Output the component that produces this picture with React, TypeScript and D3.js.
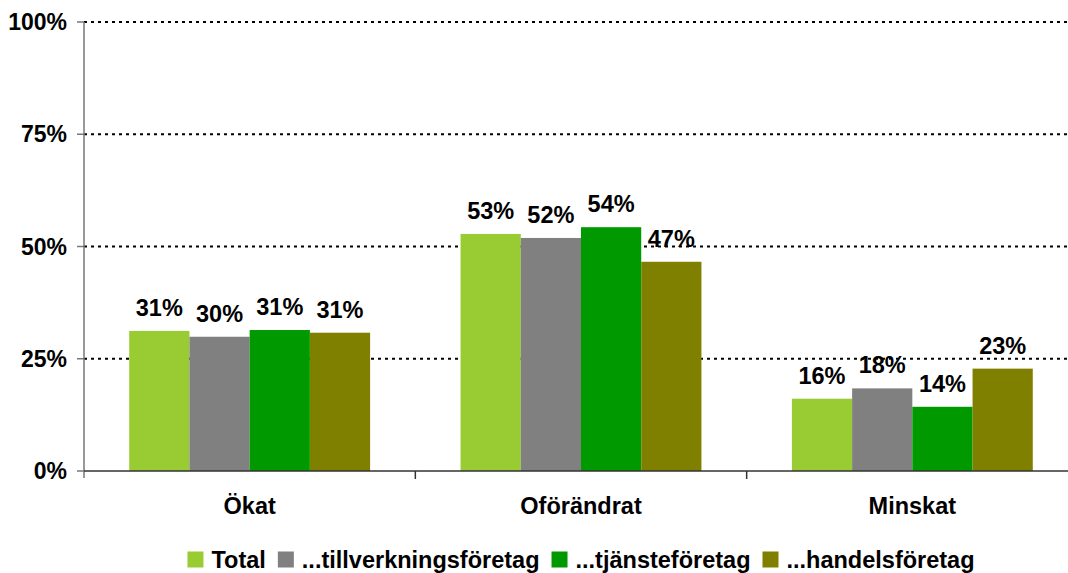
import React, { useRef, useEffect } from 'react';
import * as d3 from 'd3';

const categories = ['Ökat', 'Oförändrat', 'Minskat'];
const seriesNames = ['Total', '...tillverkningsföretag', '...tjänsteföretag', '...handelsföretag'];
const seriesColors = ['#99CC33', '#808080', '#009900', '#808000'];

// share of companies, percent
const totalValues = [31.2, 52.8, 16.1];
const tillverkningValues = [29.9, 51.9, 18.4];
const tjansteValues = [31.4, 54.3, 14.3];
const handelsValues = [30.8, 46.6, 22.8];

const yTicks = [0, 25, 50, 75, 100];

const WIDTH = 1068;
const HEIGHT = 573;
const FONT = '"Liberation Sans", Arial, Helvetica, sans-serif';

const App = () => {
  const ref = useRef<SVGSVGElement>(null);

  useEffect(() => {
    const svg = d3.select(ref.current);
    svg.selectAll('*').remove();

    const allValues = [totalValues, tillverkningValues, tjansteValues, handelsValues];
    const margin = { top: 22, left: 84, bottom: 102, right: -10 };
    const innerWidth = WIDTH - margin.left - margin.right;
    const innerHeight = HEIGHT - margin.top - margin.bottom;

    const x0 = d3.scaleBand<string>()
      .domain(categories)
      .range([0, innerWidth])
      .paddingInner(0.273)
      .paddingOuter(0.1365);

    const x1 = d3.scaleBand<number>()
      .domain(d3.range(seriesNames.length))
      .range([0, x0.bandwidth()]);

    const y = d3.scaleLinear().domain([0, 100]).range([innerHeight, 0]);

    const g = svg.append('g')
      .attr('transform', `translate(${margin.left},${margin.top})`)
      .style('font-family', FONT)
      .style('font-weight', 'bold');

    // dotted gridlines
    g.selectAll('line.grid')
      .data(yTicks.filter(t => t > 0))
      .join('line')
      .attr('class', 'grid')
      .attr('x1', 0)
      .attr('x2', innerWidth)
      .attr('y1', d => y(d))
      .attr('y2', d => y(d))
      .attr('stroke', '#000')
      .attr('stroke-width', 2)
      .attr('stroke-dasharray', '3,4');

    // bars
    const groups = g.selectAll('g.cat')
      .data(categories)
      .join('g')
      .attr('class', 'cat')
      .attr('transform', d => `translate(${x0(d)},0)`);

    groups.selectAll('rect')
      .data((_, ci) => allValues.map((vals, si) => ({ si, v: vals[ci] })))
      .join('rect')
      .attr('x', d => x1(d.si)!)
      .attr('y', d => y(d.v))
      .attr('width', x1.bandwidth())
      .attr('height', d => innerHeight - y(d.v))
      .attr('fill', d => seriesColors[d.si]);

    groups.selectAll('text')
      .data((_, ci) => allValues.map((vals, si) => ({ si, v: vals[ci] })))
      .join('text')
      .attr('x', d => x1(d.si)! + x1.bandwidth() / 2)
      .attr('y', d => y(d.v) - 15)
      .attr('text-anchor', 'middle')
      .style('font-size', '23.5px')
      .attr('fill', '#000')
      .text(d => `${Math.round(d.v)}%`);

    // y axis
    g.append('line')
      .attr('x1', 0).attr('x2', 0)
      .attr('y1', 0).attr('y2', innerHeight + 7)
      .attr('stroke', '#777').attr('stroke-width', 1.5);

    g.selectAll('line.ytick')
      .data(yTicks)
      .join('line')
      .attr('class', 'ytick')
      .attr('x1', -7).attr('x2', 0)
      .attr('y1', d => y(d)).attr('y2', d => y(d))
      .attr('stroke', '#777').attr('stroke-width', 1.5);

    g.selectAll('text.ylab')
      .data(yTicks)
      .join('text')
      .attr('class', 'ylab')
      .attr('x', -17)
      .attr('y', d => y(d) + 8)
      .attr('text-anchor', 'end')
      .style('font-size', '23px')
      .text(d => `${d}%`);

    // x axis
    g.append('line')
      .attr('x1', 0).attr('x2', innerWidth)
      .attr('y1', innerHeight).attr('y2', innerHeight)
      .attr('stroke', '#333').attr('stroke-width', 1.5);

    const step = x0.step();
    g.selectAll('line.xtick')
      .data(d3.range(1, categories.length))
      .join('line')
      .attr('class', 'xtick')
      .attr('x1', d => d * step).attr('x2', d => d * step)
      .attr('y1', innerHeight).attr('y2', innerHeight + 8)
      .attr('stroke', '#333').attr('stroke-width', 1.5);

    g.selectAll('text.xlab')
      .data(categories)
      .join('text')
      .attr('class', 'xlab')
      .attr('x', d => x0(d)! + x0.bandwidth() / 2)
      .attr('y', innerHeight + 43)
      .attr('text-anchor', 'middle')
      .style('font-size', '23.5px')
      .text(d => d);

    // legend, centred under the plot
    const legend = g.append('g');
    const items = legend.selectAll('g')
      .data(seriesNames)
      .join('g');
    items.append('rect')
      .attr('width', 16).attr('height', 16)
      .attr('y', innerHeight + 80.5)
      .attr('fill', (_, i) => seriesColors[i]);
    items.append('text')
      .attr('x', 24)
      .attr('y', innerHeight + 96.5)
      .style('font-size', '23.5px')
      .text(d => d);

    let offset = 0;
    const positions: number[] = [];
    items.each(function () {
      positions.push(offset);
      const w = (d3.select(this).select('text').node() as SVGTextElement).getComputedTextLength();
      offset += 24 + w + 12;
    });
    const total = offset - 12;
    const start = x0.step() * categories.length / 2 - total / 2;
    items.attr('transform', (_, i) => `translate(${start + positions[i]},0)`);
  }, []);

  return (
    <svg
      ref={ref}
      width={WIDTH}
      height={HEIGHT}
      style={{ position: 'absolute', left: 0, top: 0, background: '#fff' }}
    />
  );
};

export default App;
